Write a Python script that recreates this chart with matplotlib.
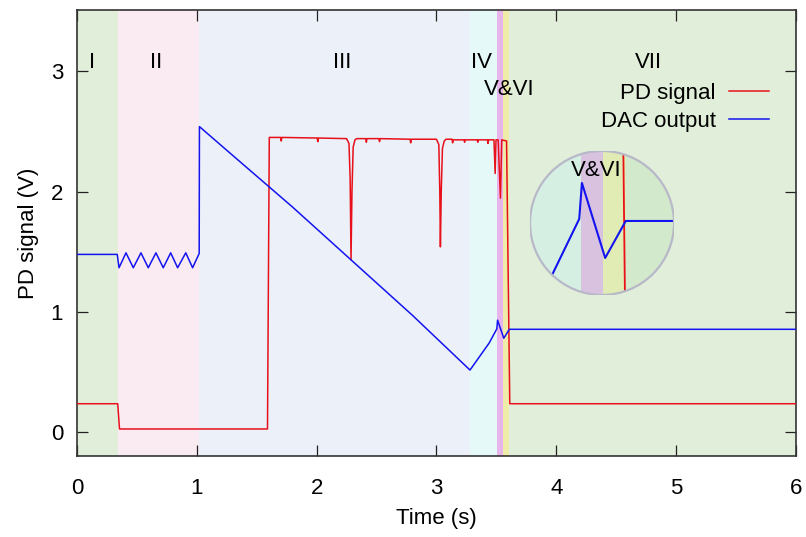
import matplotlib
matplotlib.use("Agg")
import matplotlib.pyplot as plt
from matplotlib.patches import Circle

plt.rcParams['font.family'] = ['Liberation Sans', 'DejaVu Sans']
plt.rcParams['font.size'] = 16

# phase regions (start, end) in seconds and their shading
region_edges = [0.0, 0.34, 1.02, 3.28, 3.508, 3.558, 3.608, 6.0]
region_colors = ['#e1efda', '#f9ebf1', '#ecf0f8', '#e5f9f9', '#e8b4ec', '#eeeca8', '#e1efda']
inset_colors = ['#e1efda', '#f9ebf1', '#ecf0f8', '#d5f0e2', '#d8c2e0', '#e0ecb4', '#d2e9cc']

region_labels = ['I', 'II', 'III', 'IV', 'V&VI', 'VII']
label_x = [0.13, 0.66, 2.21, 3.38, 3.61, 4.77]
label_y = [3.07, 3.07, 3.07, 3.07, 2.85, 3.07]

# DAC output (blue)
dac_t = [0.0, 0.336, 0.351, 0.409, 0.47, 0.534, 0.595, 0.659, 0.72, 0.782, 0.84,
         0.908, 0.965, 1.02, 1.022, 1.3, 1.8, 2.3, 2.8, 3.28, 3.44, 3.504, 3.51,
         3.562, 3.608, 6.0]
dac_v = [1.477, 1.477, 1.366, 1.49, 1.366, 1.49, 1.366, 1.49, 1.366, 1.49, 1.366,
         1.49, 1.366, 1.485, 2.54, 2.30, 1.87, 1.42, 0.97, 0.515, 0.74, 0.858, 0.93,
         0.78, 0.854, 0.854]

# PD signal (red)
pd_t = [0.0, 0.34, 0.355, 1.59, 1.605, 1.70, 1.705, 1.71, 2.005, 2.01, 2.015,
        2.25, 2.27, 2.28, 2.287, 2.295, 2.305, 2.32, 2.335, 2.41, 2.415, 2.42,
        2.52, 2.525, 2.53, 2.78, 2.785, 2.79, 3.0, 3.02, 3.028, 3.033, 3.04, 3.05,
        3.065, 3.08, 3.13, 3.135, 3.14, 3.23, 3.235, 3.24, 3.34, 3.345, 3.35,
        3.425, 3.43, 3.435, 3.48, 3.49, 3.497, 3.515, 3.534, 3.545, 3.585, 3.612, 6.0]
pd_v = [0.235, 0.235, 0.025, 0.025, 2.45, 2.45, 2.42, 2.45, 2.445, 2.415, 2.445,
        2.44, 2.40, 2.10, 1.43, 2.00, 2.37, 2.43, 2.44, 2.44, 2.41, 2.44,
        2.44, 2.415, 2.44, 2.435, 2.405, 2.435, 2.435, 2.39, 2.00, 1.54, 2.00, 2.36,
        2.42, 2.435, 2.435, 2.405, 2.43, 2.43, 2.41, 2.43, 2.43, 2.41, 2.43,
        2.43, 2.40, 2.43, 2.43, 2.15, 2.43, 2.43, 1.945, 2.43, 2.42, 0.235, 0.235]

red = '#e8101a'
blue = '#1414f0'

fig = plt.figure(figsize=(8.06, 5.37), dpi=100)
ax = fig.add_axes([0.0955, 0.1508, 0.892, 0.8306])

for i in range(len(region_colors)):
    ax.axvspan(region_edges[i], region_edges[i + 1], color=region_colors[i], lw=0, zorder=0)

ax.plot(pd_t, pd_v, color=red, lw=1.1, label='PD signal', zorder=3)
ax.plot(dac_t, dac_v, color=blue, lw=1.1, label='DAC output', zorder=3)

for lab, x, y in zip(region_labels, label_x, label_y):
    ax.text(x, y, lab, ha='center', va='center', fontsize=16)

ax.set_xlim(0, 6)
ax.set_ylim(-0.2, 3.51)
ax.set_xticks([0, 1, 2, 3, 4, 5, 6])
ax.set_yticks([0, 1, 2, 3])
ax.tick_params(direction='in', top=True, right=True, length=8, width=0.9, color='#222222')
ax.tick_params(axis='x', pad=16)
ax.tick_params(axis='y', pad=10)
for s in ax.spines.values():
    s.set_color('#333333')
    s.set_linewidth(1.2)
ax.set_xlabel('Time (s)', labelpad=6)
ax.set_ylabel('PD signal (V)', labelpad=8)

ax.legend(loc='upper right', bbox_to_anchor=(0.9624, 0.837), frameon=False, markerfirst=False,
          borderpad=0, borderaxespad=0, handlelength=1.8, handletextpad=0.6, labelspacing=0.32)

# circular zoom of the V&VI transition
ins = fig.add_axes([0.6576, 0.4507, 0.1787, 0.2682])
ins.set_xlim(3.394, 3.716)
ins.set_ylim(0.706, 0.994)
ins.axis('off')
clip = Circle((0.5, 0.5), 0.5, transform=ins.transAxes, facecolor='none',
              edgecolor='#b8b8c8', lw=1.6, zorder=10)
ins.add_patch(clip)
for i in range(len(inset_colors)):
    sp = ins.axvspan(region_edges[i], region_edges[i + 1], color=inset_colors[i], lw=0, zorder=0)
    sp.set_clip_path(clip)
l1, = ins.plot(pd_t, pd_v, color=red, lw=1.3, zorder=3)
l2, = ins.plot(dac_t, dac_v, color=blue, lw=1.5, zorder=3)
l1.set_clip_path(clip)
l2.set_clip_path(clip)
ins.text(0.458, 0.861, 'V&VI', transform=ins.transAxes, ha='center', va='center', fontsize=16, zorder=5)

fig.savefig('out.png', dpi=100)
